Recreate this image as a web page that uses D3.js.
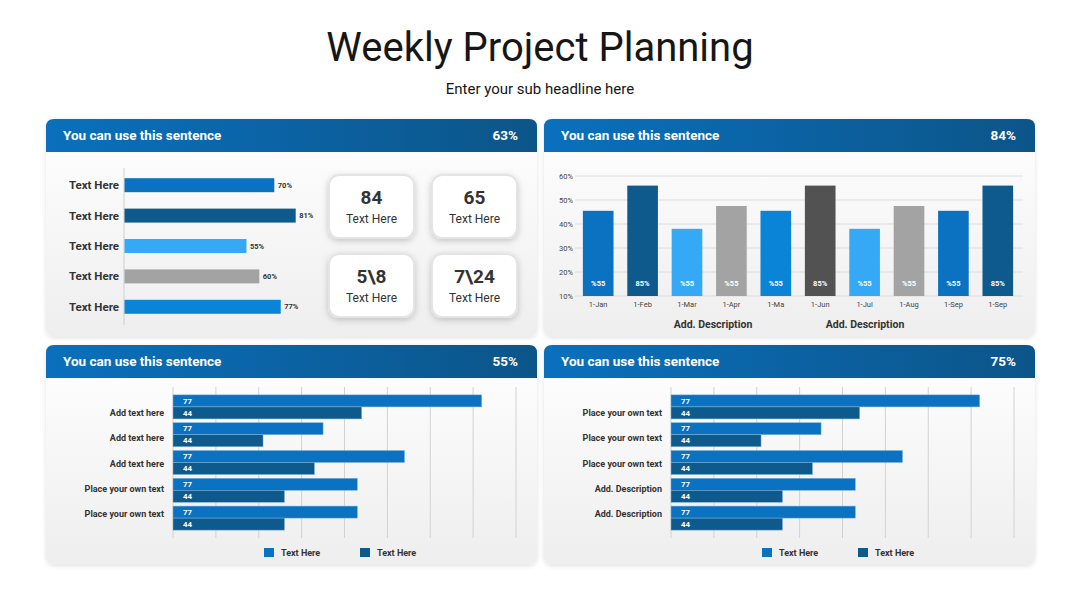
<!DOCTYPE html>
<html>
<head>
<meta charset="utf-8">
<script src="https://cdn.jsdelivr.net/npm/d3@7"></script>
<style>
  html, body { margin:0; padding:0; background:#fff; }
  svg { display:block; font-family: Roboto, "Noto Sans", sans-serif; }
</style>
</head>
<body>
<div id="chart"></div>
<script>
// ---- data ----
const panelTitles = ['You can use this sentence','You can use this sentence','You can use this sentence','You can use this sentence']
const panelPercents = ['63%','84%','55%','75%']

// top-left bars
const tlCategories = ['Text Here','Text Here','Text Here','Text Here','Text Here']
const tlValues = [70, 80, 57, 63, 73]
const tlLabels = ['70%','81%','55%','60%','77%']
const tlColors = ['#0a72c0','#0f5a8c','#35a9f5','#a3a3a3','#0a84d6']

// cards
const cardNumbers = ['84','65','5\\8','7\\24']
const cardTexts = ['Text Here','Text Here','Text Here','Text Here']

// top-right columns
const trMonths = ['1-Jan','1-Feb','1-Mar','1-Apr','1-Ma','1-Jun','1-Jul','1-Aug','1-Sep','1-Sep ']
const trValues = [45.5, 56, 38, 47.5, 45.5, 56, 38, 47.5, 45.5, 56]
const trLabels = ['%55','85%','%55','%55','%55','85%','%55','%55','%55','85%']
const trColors = ['#0a72c0','#0f5a8c','#35a9f5','#a3a3a3','#0a84d6','#525252','#35a9f5','#a3a3a3','#0a72c0','#0f5a8c']
const trTicks = [10, 20, 30, 40, 50, 60]
const trDescriptions = ['Add. Description','Add. Description']

// bottom grouped bars
const blCategories = ['Add text here','Add text here ','Add text here  ','Place your own text','Place your own text ']
const brCategories = ['Place your own text','Place your own text ','Place your own text  ','Add. Description','Add. Description ']
const seriesA = [72, 35, 54, 43, 43]
const seriesB = [44, 21, 33, 26, 26]
const seriesALabels = ['77','77','77','77','77']
const seriesBLabels = ['44','44','44','44','44']
const seriesNames = ['Text Here','Text Here']
const seriesColors = ['#0a72c0','#0f5a8c']
const gridTicks = [0,10,20,30,40,50,60,70,80]

// ---- setup ----
const W = 1080, H = 608
const svg = d3.select('#chart').append('svg').attr('width', W).attr('height', H)
const defs = svg.append('defs')

const hg = defs.append('linearGradient').attr('id','headGrad').attr('x1','0%').attr('x2','100%')
hg.append('stop').attr('offset','0%').attr('stop-color','#0a70bd')
hg.append('stop').attr('offset','100%').attr('stop-color','#0c5589')

const bg = defs.append('linearGradient').attr('id','bodyGrad').attr('x1','0%').attr('x2','0%').attr('y1','0%').attr('y2','100%')
bg.append('stop').attr('offset','0%').attr('stop-color','#ffffff')
bg.append('stop').attr('offset','100%').attr('stop-color','#eeeeee')

const ps = defs.append('filter').attr('id','panelShadow').attr('x','-5%').attr('y','-5%').attr('width','110%').attr('height','115%')
ps.append('feDropShadow').attr('dx',0).attr('dy',1).attr('stdDeviation',2).attr('flood-color','#000').attr('flood-opacity',0.12)

const cs = defs.append('filter').attr('id','cardShadow').attr('x','-20%').attr('y','-20%').attr('width','140%').attr('height','150%')
cs.append('feDropShadow').attr('dx',0).attr('dy',2).attr('stdDeviation',3).attr('flood-color','#000').attr('flood-opacity',0.2)

// title
svg.append('text').attr('x', W/2).attr('y', 61).attr('text-anchor','middle')
  .attr('font-size', 40).attr('fill','#161616').text('Weekly Project Planning')
svg.append('text').attr('x', W/2).attr('y', 94).attr('text-anchor','middle')
  .attr('font-size', 15).attr('fill','#161616').text('Enter your sub headline here')

// panels
const panels = [
  {x:46, y:119, w:491, h:218},
  {x:544, y:119, w:491, h:218},
  {x:46, y:345, w:491, h:220},
  {x:544, y:345, w:491, h:220}
]
const panelG = panels.map((p,i)=>{
  const g = svg.append('g').attr('transform',`translate(${p.x},${p.y})`)
  g.append('rect').attr('width',p.w).attr('height',p.h).attr('rx',8)
    .attr('fill','url(#bodyGrad)').attr('filter','url(#panelShadow)')
  // header with rounded top only
  const r = 8, hh = 33
  g.append('path')
    .attr('d',`M0,${hh} L0,${r} Q0,0 ${r},0 L${p.w-r},0 Q${p.w},0 ${p.w},${r} L${p.w},${hh} Z`)
    .attr('fill','url(#headGrad)')
  g.append('text').attr('x',17).attr('y',21).attr('font-size',13.5).attr('font-weight','bold')
    .attr('fill','#fff').text(panelTitles[i])
  g.append('text').attr('x',p.w-19).attr('y',21).attr('font-size',13.5).attr('font-weight','bold')
    .attr('text-anchor','end').attr('fill','#fff').text(panelPercents[i])
  return g
})

// ---- top-left: horizontal bars ----
{
  const g = panelG[0]
  const idx = d3.range(tlValues.length)
  const y = d3.scaleBand().domain(idx).range([51, 203]).paddingInner(0.54).paddingOuter(0.27)
  const x = d3.scaleLinear().domain([0,100]).range([78, 78+214])
  g.append('line').attr('x1',78).attr('x2',78).attr('y1',49).attr('y2',206).attr('stroke','#cfcfcf')
  g.selectAll('rect.tl').data(idx).join('rect').attr('class','tl')
    .attr('x', x(0)+0.5).attr('y', d=>y(d)).attr('height', y.bandwidth())
    .attr('width', d=>x(tlValues[d])-x(0)).attr('fill', d=>tlColors[d])
  g.selectAll('text.cat').data(idx).join('text').attr('class','cat')
    .attr('x',73).attr('y', d=>y(d)+y.bandwidth()/2).attr('dy','0.35em')
    .attr('text-anchor','end').attr('font-size',11.5).attr('font-weight','bold').attr('fill','#333')
    .text(d=>tlCategories[d])
  g.selectAll('text.val').data(idx).join('text').attr('class','val')
    .attr('x', d=>x(tlValues[d])+4).attr('y', d=>y(d)+y.bandwidth()/2).attr('dy','0.35em')
    .attr('font-size',7.5).attr('font-weight','bold').attr('fill','#333')
    .text(d=>tlLabels[d])

  // cards
  const cx = d3.scaleBand().domain([0,1]).range([283, 471]).paddingInner(0.175)
  const cy = d3.scaleBand().domain([0,1]).range([56, 198]).paddingInner(0.2)
  const cards = g.selectAll('g.card').data(d3.range(4)).join('g').attr('class','card')
    .attr('transform', d=>`translate(${cx(d%2)},${cy(Math.floor(d/2))})`)
  cards.append('rect').attr('width',cx.bandwidth()).attr('height',cy.bandwidth()).attr('rx',10)
    .attr('fill','#fff').attr('stroke','#e4e4e4').attr('stroke-width',2).attr('filter','url(#cardShadow)')
  cards.append('text').attr('x',cx.bandwidth()/2).attr('y',29).attr('text-anchor','middle')
    .attr('font-size',19).attr('font-weight','bold').attr('fill','#333').text(d=>cardNumbers[d])
  cards.append('text').attr('x',cx.bandwidth()/2).attr('y',48).attr('text-anchor','middle')
    .attr('font-size',12).attr('fill','#333').text(d=>cardTexts[d])
}

// ---- top-right: columns ----
{
  const g = panelG[1]
  const idx = d3.range(trValues.length)
  const x = d3.scaleBand().domain(idx).range([30, 478]).paddingInner(0.31).paddingOuter(0.2)
  const y = d3.scaleLinear().domain([10,60]).range([177, 57])
  g.selectAll('line.grid').data(trTicks).join('line').attr('class','grid')
    .attr('x1',31).attr('x2',479).attr('y1',d=>y(d)).attr('y2',d=>y(d))
    .attr('stroke','#dcdcdc')
  g.selectAll('text.tick').data(trTicks).join('text').attr('class','tick')
    .attr('x',29).attr('y',d=>y(d)).attr('dy','0.35em').attr('text-anchor','end')
    .attr('font-size',7.5).attr('fill','#444').text(d=>d+'%')
  g.selectAll('rect.col').data(idx).join('rect').attr('class','col')
    .attr('x',d=>x(d)).attr('width',x.bandwidth())
    .attr('y',d=>y(trValues[d])).attr('height',d=>y(10)-y(trValues[d]))
    .attr('fill',d=>trColors[d])
  g.selectAll('text.in').data(idx).join('text').attr('class','in')
    .attr('x',d=>x(d)+x.bandwidth()/2).attr('y',164).attr('dy','0.35em').attr('text-anchor','middle')
    .attr('font-size',7.5).attr('font-weight','bold').attr('fill','#fff').text(d=>trLabels[d])
  g.selectAll('text.mon').data(idx).join('text').attr('class','mon')
    .attr('x',d=>x(d)+x.bandwidth()/2).attr('y',185).attr('dy','0.35em').attr('text-anchor','middle')
    .attr('font-size',7.5).attr('fill','#444').text(d=>trMonths[d].trim())
  const dx = [169, 321]
  g.selectAll('text.desc').data(trDescriptions).join('text').attr('class','desc')
    .attr('x',(d,i)=>dx[i]).attr('y',205).attr('dy','0.35em').attr('text-anchor','middle')
    .attr('font-size',10.5).attr('font-weight','bold').attr('fill','#333').text(d=>d)
}

// ---- bottom: grouped horizontal bars ----
function groupedBars(g, categories){
  const x = d3.scaleLinear().domain([0,80]).range([127, 470])
  const y = d3.scaleBand().domain(categories).range([48, 187]).paddingInner(0.135).paddingOuter(0.0675)
  const y1 = d3.scaleBand().domain([0,1]).range([0, y.bandwidth()])
  const yl = d3.scalePoint().domain(categories).range([68, 169])

  g.selectAll('line.grid').data(gridTicks).join('line').attr('class','grid')
    .attr('x1',d=>x(d)).attr('x2',d=>x(d)).attr('y1',42).attr('y2',193)
    .attr('stroke','#d2d2d2')

  const rows = g.selectAll('g.row').data(categories).join('g').attr('class','row')
    .attr('transform',d=>`translate(0,${y(d)})`)
  rows.each(function(c,i){
    const r = d3.select(this)
    const vals = [seriesA[i], seriesB[i]]
    const labs = [seriesALabels[i], seriesBLabels[i]]
    r.selectAll('rect').data([0,1]).join('rect')
      .attr('x',x(0)).attr('y',s=>y1(s)).attr('height',y1.bandwidth())
      .attr('width',s=>x(vals[s])-x(0)).attr('fill',s=>seriesColors[s])
      .attr('stroke','#7fb3dd').attr('stroke-width',0.5)
    r.selectAll('text').data([0,1]).join('text')
      .attr('x',x(0)+10).attr('y',s=>y1(s)+y1.bandwidth()/2).attr('dy','0.35em')
      .attr('font-size',7.8).attr('font-weight','bold').attr('fill','#fff').text(s=>labs[s])
  })
  g.selectAll('text.cat').data(categories).join('text').attr('class','cat')
    .attr('x',118).attr('y',d=>yl(d)).attr('dy','0.35em').attr('text-anchor','end')
    .attr('font-size',9).attr('font-weight','bold').attr('fill','#333').text(d=>d.trim())

  const lx = [218, 314]
  const leg = g.selectAll('g.leg').data(seriesNames).join('g').attr('class','leg')
    .attr('transform',(d,i)=>`translate(${lx[i]},203)`)
  leg.append('rect').attr('width',10).attr('height',9).attr('fill',(d,i)=>seriesColors[i])
  leg.append('text').attr('x',17).attr('y',4.5).attr('dy','0.35em')
    .attr('font-size',9).attr('font-weight','bold').attr('fill','#333').text(d=>d)
}
groupedBars(panelG[2], blCategories)
groupedBars(panelG[3], brCategories)
</script>
</body>
</html>
